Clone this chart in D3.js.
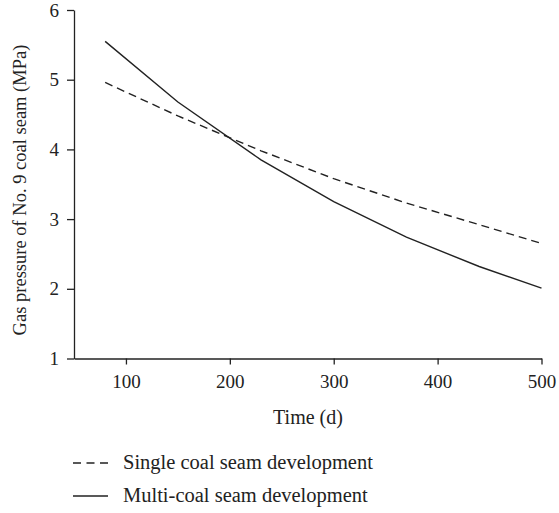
<!DOCTYPE html>
<html>
<head>
<meta charset="utf-8">
<script src="https://cdn.jsdelivr.net/npm/d3@7"></script>
<style>
  body { margin: 0; background: #fff; }
  text { font-family: "Liberation Serif", "DejaVu Serif", serif; fill: #222; }
</style>
</head>
<body>
<script>
// time in days
const days = [80, 150, 230, 300, 370, 440, 500];
// gas pressure (MPa)
const singleSeam = [4.96, 4.48, 3.98, 3.58, 3.23, 2.92, 2.65];
const multiSeam = [5.55, 4.68, 3.85, 3.25, 2.74, 2.32, 2.01];
const xTicks = [100, 200, 300, 400, 500];
const yTicks = [1, 2, 3, 4, 5, 6];
const seriesNames = ["Single coal seam development", "Multi-coal seam development"];

const width = 559, height = 513;
const svg = d3.select("body").append("svg")
    .attr("width", width)
    .attr("height", height);

const x = d3.scaleLinear().domain([50, 500]).range([74, 541.5]);
const y = d3.scaleLinear().domain([1, 6]).range([358.5, 10]);

const ink = "#222";

// axes
const xAxis = svg.append("g")
    .attr("transform", `translate(0,${y(1)})`)
    .call(d3.axisBottom(x).tickValues(xTicks).tickFormat(d3.format("d"))
      .tickSize(6).tickPadding(10).tickSizeOuter(0));
const yAxis = svg.append("g")
    .attr("transform", `translate(${x(50)},0)`)
    .call(d3.axisLeft(y).tickValues(yTicks).tickFormat(d3.format("d"))
      .tickSize(7).tickPadding(8).tickSizeOuter(0));

[xAxis, yAxis].forEach(g => {
  g.select(".domain").attr("stroke", ink).attr("stroke-width", 1.3);
  g.selectAll(".tick line").attr("stroke", ink).attr("stroke-width", 1.3);
  g.selectAll(".tick text")
    .attr("fill", ink)
    .style("font-family", '"Liberation Serif", serif')
    .style("font-size", "19px");
});

// axis titles
svg.append("text")
    .attr("x", 308).attr("y", 424)
    .attr("text-anchor", "middle")
    .style("font-size", "20px")
    .text("Time (d)");

svg.append("text")
    .attr("transform", "translate(26,190) rotate(-90)")
    .attr("text-anchor", "middle")
    .style("font-size", "18.5px")
    .text("Gas pressure of No. 9 coal seam (MPa)");

// lines
const line = d3.line()
    .x((d, i) => x(days[i]))
    .y(d => y(d));

svg.append("path")
    .datum(singleSeam)
    .attr("d", line)
    .attr("fill", "none")
    .attr("stroke", ink)
    .attr("stroke-width", 1.4)
    .attr("stroke-dasharray", "8,5");

svg.append("path")
    .datum(multiSeam)
    .attr("d", line)
    .attr("fill", "none")
    .attr("stroke", ink)
    .attr("stroke-width", 1.4);

// legend
const legend = svg.append("g");
const legendY = [463, 496];
seriesNames.forEach((name, i) => {
  legend.append("line")
      .attr("x1", 73).attr("x2", 108)
      .attr("y1", legendY[i]).attr("y2", legendY[i])
      .attr("stroke", ink)
      .attr("stroke-width", 1.4)
      .attr("stroke-dasharray", i === 0 ? "8,5.5" : null);
  legend.append("text")
      .attr("x", 123).attr("y", legendY[i] + 6)
      .style("font-size", "20.5px")
      .text(name);
});
</script>
</body>
</html>
